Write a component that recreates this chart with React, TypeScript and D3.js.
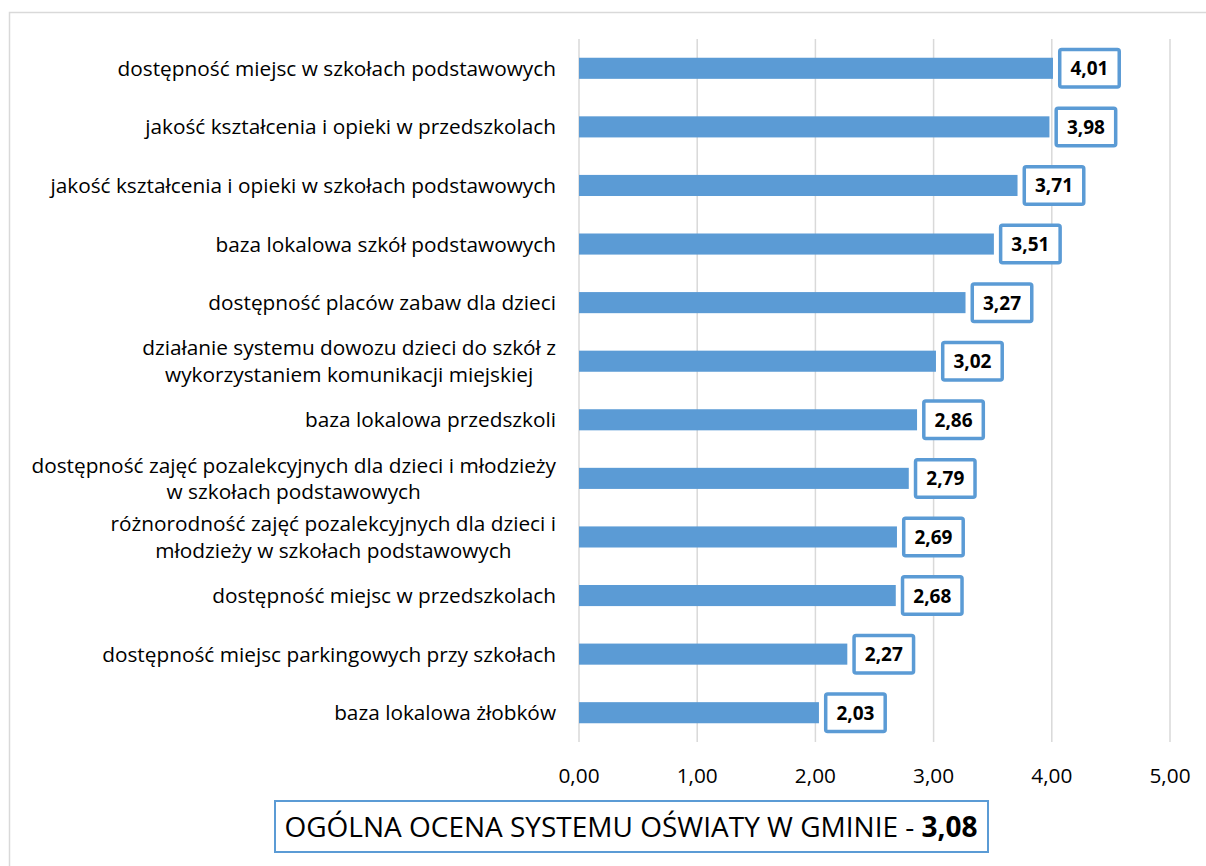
import React, { useLayoutEffect, useRef, useState } from "react";
import * as d3 from "d3";

const categories: string[][] = [
  ["dostępność miejsc w szkołach podstawowych"],
  ["jakość kształcenia i opieki w przedszkolach"],
  ["jakość kształcenia i opieki w szkołach podstawowych"],
  ["baza lokalowa szkół podstawowych"],
  ["dostępność placów zabaw dla dzieci"],
  ["działanie systemu dowozu dzieci do szkół z", "wykorzystaniem komunikacji miejskiej"],
  ["baza lokalowa przedszkoli"],
  ["dostępność zajęć pozalekcyjnych dla dzieci i młodzieży", "w szkołach podstawowych"],
  ["różnorodność zajęć pozalekcyjnych dla dzieci i", "młodzieży w szkołach podstawowych"],
  ["dostępność miejsc w przedszkolach"],
  ["dostępność miejsc parkingowych przy szkołach"],
  ["baza lokalowa żłobków"],
];
const values: number[] = [4.01, 3.98, 3.71, 3.51, 3.27, 3.02, 2.86, 2.79, 2.69, 2.68, 2.27, 2.03];
const ticks: number[] = [0, 1, 2, 3, 4, 5];
const overallLabel = "OGÓLNA OCENA SYSTEMU OŚWIATY W GMINIE - ";
const overallValue = 3.08;

const W = 1206;
const H = 866;
const FONT = "'Open Sans', Lato, sans-serif";
const BLUE = "#5B9BD5";
const GRID = "#D9D9D9";
const LABEL_SIZE = 20.8;

const fmt = (v: number) => v.toFixed(2).replace(".", ",");

export default function App() {
  const x = d3.scaleLinear().domain([0, 5]).range([579, 1170]);
  const y = d3
    .scaleBand<number>()
    .domain(d3.range(values.length))
    .range([39, 742])
    .paddingInner(0.64)
    .paddingOuter(0.32);
  const bh = y.bandwidth();
  const labelRight = 556;
  const lineH = 26.5;

  const svgRef = useRef<SVGSVGElement>(null);
  const [widths, setWidths] = useState<Record<string, number>>({});

  useLayoutEffect(() => {
    const svg = svgRef.current;
    if (!svg) return;
    const m: Record<string, number> = {};
    svg.querySelectorAll<SVGTextElement>("text.catlab").forEach((el) => {
      m[el.getAttribute("data-key") as string] = el.getComputedTextLength();
    });
    setWidths(m);
  }, []);

  const boxW = 63;
  const boxH = 41;
  const sw = 3.5;

  return (
    <svg ref={svgRef} width={W} height={H} style={{ position: "absolute", left: 0, top: 0, display: "block" }}>
      <rect x={0} y={0} width={W} height={H} fill="#fff" />
      <rect x={9.5} y={12.5} width={W + 10} height={H + 10} fill="#fff" stroke={GRID} strokeWidth={1.5} />
      {ticks.map((t) => (
        <line key={"g" + t} x1={x(t)} x2={x(t)} y1={39} y2={742} stroke={GRID} strokeWidth={1.5} />
      ))}
      {values.map((v, i) => {
        const cy = (y(i) as number) + bh / 2;
        const x1 = x(v);
        const bx = x1 + 5;
        return (
          <g key={"b" + i}>
            <rect x={x(0)} y={y(i)} width={x1 - x(0)} height={bh} fill={BLUE} />
            <rect
              x={bx + sw / 2}
              y={cy - boxH / 2 + sw / 2}
              width={boxW - sw}
              height={boxH - sw}
              rx={2}
              fill="#fff"
              stroke={BLUE}
              strokeWidth={sw}
            />
            <text
              x={bx + boxW / 2}
              y={cy + 7}
              textAnchor="middle"
              fontFamily={FONT}
              fontWeight={700}
              fontSize={19}
              fill="#000"
            >
              {fmt(v)}
            </text>
          </g>
        );
      })}
      {categories.map((lines, i) => {
        const cy = (y(i) as number) + bh / 2;
        const n = lines.length;
        const ws = lines.map((_, j) => widths[i + "-" + j]);
        const haveAll = ws.every((w) => w !== undefined);
        const maxW = haveAll ? Math.max(...(ws as number[])) : 0;
        return (
          <g key={"c" + i}>
            {lines.map((ln, j) => {
              const ty = cy + (j - (n - 1) / 2) * lineH + 7.5;
              const centered = n > 1 && haveAll;
              return (
                <text
                  key={j}
                  className="catlab"
                  data-key={i + "-" + j}
                  x={centered ? labelRight - maxW / 2 : labelRight}
                  y={ty}
                  textAnchor={centered ? "middle" : "end"}
                  fontFamily={FONT}
                  fontSize={LABEL_SIZE}
                  fill="#000"
                >
                  {ln}
                </text>
              );
            })}
          </g>
        );
      })}
      {ticks.map((t) => (
        <text
          key={"t" + t}
          x={x(t)}
          y={783}
          textAnchor="middle"
          fontFamily={FONT}
          fontSize={LABEL_SIZE}
          fill="#000"
        >
          {fmt(t)}
        </text>
      ))}
      <rect x={275} y={801} width={713} height={51} fill="#fff" stroke={BLUE} strokeWidth={2} />
      <text x={631} y={837} textAnchor="middle" fontFamily={FONT} fontSize={28} fill="#000">
        {overallLabel}
        <tspan fontWeight={700}>{fmt(overallValue)}</tspan>
      </text>
    </svg>
  );
}
